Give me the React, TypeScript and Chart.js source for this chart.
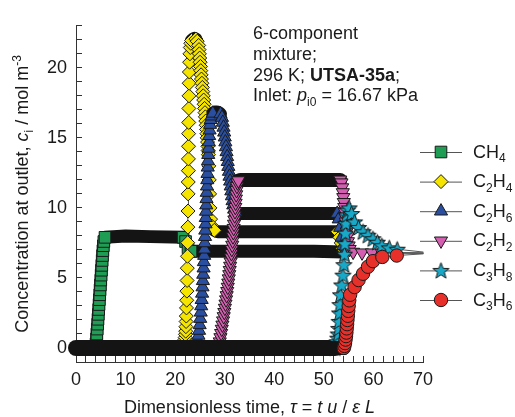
import React, { useEffect, useRef } from "react";
import { Chart, registerables } from "chart.js";

Chart.register(...registerables);

const FONT = "'Liberation Sans', Arial, Helvetica, sans-serif";
const TEXT = "#1a1a1a";

// ---------------- data (tau = dimensionless time, c = mol m^-3) ----------------
const xTickValues = [0, 10, 20, 30, 40, 50, 60, 70];
const yTickValues = [0, 5, 10, 15, 20];

const ch4Tau = [0, 3.9, 4.05, 4.13, 4.21, 4.29, 4.37, 4.44, 4.51, 4.58, 4.65, 4.72, 4.79, 4.86, 4.93, 5.0, 5.07, 5.14, 5.21, 5.28, 5.35, 5.43, 5.52, 5.62, 5.85, 10, 15, 21.6, 22.1, 22.6, 23.2, 30, 40, 48, 54, 70];
const ch4Conc = [0, 0, 0.3, 0.65, 1.0, 1.35, 1.7, 2.05, 2.4, 2.75, 3.1, 3.45, 3.8, 4.15, 4.5, 4.85, 5.2, 5.55, 5.9, 6.25, 6.6, 6.95, 7.3, 7.6, 7.9, 8.0, 7.95, 7.9, 7.6, 7.15, 6.9, 6.9, 6.9, 6.9, 6.85, 6.77];

const c2h4Tau = [0, 21.5,
  21.6, 21.72, 21.82, 21.9, 21.97, 22.03, 22.08, 22.13, 22.17, 22.21, 22.25, 22.29, 22.33, 22.37, 22.41, 22.45, 22.49, 22.53, 22.57, 22.6, 22.62, 22.64, 22.66, 22.68, 22.7, 22.72, 22.74, 22.77, 22.8, 22.83, 22.87, 22.92, 22.98, 23.06, 23.16,
  23.3, 23.6, 23.9, 24.2, 24.45,
  24.75, 24.82, 24.89, 24.96, 25.03, 25.1, 25.17, 25.24, 25.31, 25.4, 25.49, 25.58, 25.67, 25.76, 25.85, 25.94, 26.02, 26.1, 26.18, 26.26, 26.33, 26.4, 26.47, 26.54, 26.6, 26.66, 26.72,
  26.8, 26.88, 26.95, 27.02, 27.15, 27.4, 27.9, 28.6, 40, 52.8,
  53.2, 53.5, 53.8, 54.2, 70];
const c2h4Conc = [0, 0,
  0.1, 0.2, 0.32, 0.45, 0.6, 0.75, 0.97, 1.2, 1.52, 1.89, 2.28, 2.86, 3.41, 4.06, 4.82, 5.7, 6.55, 7.52, 8.63, 9.78, 11.0, 11.85, 12.66, 13.5, 14.4, 15.3, 16.1, 17.1, 18.0, 18.9, 19.7, 20.4, 21.0, 21.45, 21.75,
  21.95, 22.05, 22.1, 22.05, 21.9,
  21.6, 21.3, 21.0, 20.7, 20.4, 20.1, 19.8, 19.5, 19.2, 18.9, 18.6, 18.3, 18.0, 17.7, 17.4, 17.1, 16.8, 16.5, 16.2, 15.9, 15.6, 15.3, 15.0, 14.7, 14.4, 14.1, 13.8,
  13.0, 12.0, 11.0, 10.0, 9.2, 8.7, 8.4, 8.3, 8.3, 8.3,
  7.9, 7.5, 7.1, 6.85, 6.77];

const c2h6Tau = [0, 24.1,
  24.25, 24.4, 24.55, 24.7, 24.83, 24.95, 25.06, 25.16, 25.26, 25.35, 25.44, 25.52, 25.6, 25.67, 25.74, 25.8, 25.86, 25.92, 25.98, 26.03,
  26.08, 26.13, 26.18, 26.23, 26.28, 26.33, 26.38, 26.43, 26.48, 26.53, 26.58, 26.63, 26.68, 26.74, 26.8, 26.87, 26.95, 27.05, 27.18, 27.35,
  27.6, 28.0, 28.4, 28.8, 29.15,
  29.45, 29.62, 29.76, 29.89, 30.01, 30.13, 30.25, 30.37, 30.49, 30.61, 30.73, 30.85, 30.97, 31.09, 31.21, 31.33, 31.45, 31.58, 31.72, 31.9, 32.2, 32.7, 40, 52.7,
  53.0, 53.3, 53.6, 53.9, 54.3, 70];
const c2h6Conc = [0, 0,
  0.15, 0.35, 0.6, 0.9, 1.25, 1.65, 2.1, 2.55, 3.0, 3.45, 3.9, 4.35, 4.8, 5.25, 5.7, 6.15, 6.6, 7.05, 7.5, 7.95,
  8.4, 8.85, 9.3, 9.75, 10.2, 10.65, 11.1, 11.55, 12.0, 12.45, 12.9, 13.35, 13.8, 14.25, 14.7, 15.15, 15.55, 15.95, 16.3, 16.55,
  16.75, 16.85, 16.85, 16.8, 16.7,
  16.45, 16.1, 15.75, 15.4, 15.05, 14.7, 14.35, 14.0, 13.65, 13.3, 12.95, 12.6, 12.25, 11.9, 11.55, 11.2, 10.85, 10.5, 10.2, 9.9, 9.7, 9.6, 9.6, 9.6,
  9.2, 8.6, 7.9, 7.3, 6.9, 6.77];

const c2h2Tau = [0, 28.7,
  28.85, 29.0, 29.14, 29.28, 29.41, 29.54, 29.67, 29.8, 29.92, 30.04, 30.16, 30.28, 30.4, 30.51, 30.62, 30.72, 30.82, 30.92, 31.01, 31.1,
  31.19, 31.28, 31.36, 31.44, 31.52, 31.6, 31.67, 31.74, 31.81, 31.88, 31.95, 32.02, 32.08, 32.14, 32.2, 32.26, 32.32, 32.39, 32.47, 32.58, 32.75,
  33.2, 40, 53.3,
  53.55, 53.7, 53.82, 53.92, 54.02, 54.12, 54.22, 54.32, 54.42, 54.52, 54.62, 54.74, 54.86, 55.0, 55.2, 55.9, 57.7, 59.7, 61.7, 70];
const c2h2Conc = [0, 0,
  0.15, 0.45, 0.75, 1.05, 1.35, 1.65, 1.95, 2.25, 2.55, 2.85, 3.15, 3.45, 3.75, 4.05, 4.35, 4.65, 4.95, 5.25, 5.55, 5.85,
  6.15, 6.45, 6.75, 7.05, 7.35, 7.65, 7.95, 8.25, 8.55, 8.85, 9.15, 9.45, 9.75, 10.05, 10.35, 10.65, 10.95, 11.25, 11.55, 11.8, 11.95,
  12.0, 12.0, 12.0,
  11.8, 11.45, 11.1, 10.75, 10.4, 10.05, 9.7, 9.35, 9.0, 8.65, 8.3, 7.95, 7.6, 7.3, 7.05, 6.85, 6.8, 6.8, 6.78, 6.77];

const c3h8Tau = [0, 52.25, 52.4, 52.55, 52.68, 52.8, 52.9, 53.0, 53.08, 53.16, 53.25, 53.35, 53.6, 53.85, 54.05, 54.15, 54.25, 54.35, 54.45, 54.6, 54.8, 55.1, 55.6, 56.2, 57.0, 57.9, 58.9, 59.9, 60.8, 61.7, 63.2, 64.8, 70];
const c3h8Conc = [0, 0, 0.1, 0.25, 0.45, 0.7, 1.0, 1.4, 1.9, 2.5, 3.1, 3.8, 4.5, 5.2, 5.95, 6.7, 7.45, 8.2, 8.9, 9.5, 9.85, 10.0, 9.6, 9.0, 8.6, 8.3, 8.05, 7.8, 7.55, 7.3, 7.15, 7.05, 6.85];

const c3h6Tau = [0, 54.0, 54.15, 54.27, 54.38, 54.47, 54.55, 54.62, 54.69, 54.76, 54.84, 54.92, 55.01, 55.12, 55.3, 56.2, 57.0, 57.9, 58.9, 59.9, 61.8, 64.7, 70];
const c3h6Conc = [0, 0, 0.15, 0.35, 0.6, 0.85, 1.1, 1.4, 1.7, 2.0, 2.3, 2.65, 3.0, 3.4, 3.8, 4.35, 4.85, 5.3, 5.8, 6.2, 6.5, 6.6, 6.72];

// ---------------- styling ----------------
const BAND_END_TAU = 54; // dense simulation output (markers merge into black bands) before this time
const LONG_GAP_PX = 20;
const FLAT_SLOPE = 1.0;

type Part = { t: string; it?: boolean; b?: boolean; sub?: boolean; sup?: boolean };

const SERIES = [
  { name: [{ t: "CH" }, { t: "4", sub: true }], tau: ch4Tau, conc: ch4Conc, color: "#1f9d55", style: "rect", radius: 8.2, band: 13 },
  { name: [{ t: "C" }, { t: "2", sub: true }, { t: "H" }, { t: "4", sub: true }], tau: c2h4Tau, conc: c2h4Conc, color: "#f4e400", style: "rectRot", radius: 7, band: 13 },
  { name: [{ t: "C" }, { t: "2", sub: true }, { t: "H" }, { t: "6", sub: true }], tau: c2h6Tau, conc: c2h6Conc, color: "#2a4fa0", style: "triangle", radius: 7.6, band: 13 },
  { name: [{ t: "C" }, { t: "2", sub: true }, { t: "H" }, { t: "2", sub: true }], tau: c2h2Tau, conc: c2h2Conc, color: "#d45fb0", style: "triangleDown", radius: 7.6, band: 14 },
  { name: [{ t: "C" }, { t: "3", sub: true }, { t: "H" }, { t: "8", sub: true }], tau: c3h8Tau, conc: c3h8Conc, color: "#18a9c8", style: "star", radius: 8.5, band: 16 },
  { name: [{ t: "C" }, { t: "3", sub: true }, { t: "H" }, { t: "6", sub: true }], tau: c3h6Tau, conc: c3h6Conc, color: "#e8302a", style: "circle", radius: 6.7, band: 14 },
];

const xTitle: Part[] = [
  { t: "Dimensionless time, " }, { t: "τ", it: true }, { t: " = " }, { t: "t", it: true }, { t: " " },
  { t: "u", it: true }, { t: " / " }, { t: "ε", it: true }, { t: " " }, { t: "L", it: true },
];
const yTitle: Part[] = [
  { t: "Concentration at outlet, " }, { t: "c", it: true }, { t: "i", sub: true }, { t: " / mol m" }, { t: "-3", sup: true },
];
const noteLines: Part[][] = [
  [{ t: "6-component" }],
  [{ t: "mixture;" }],
  [{ t: "296 K; " }, { t: "UTSA-35a", b: true }, { t: ";" }],
  [{ t: "Inlet: " }, { t: "p", it: true }, { t: "i0", sub: true }, { t: " = 16.67 kPa" }],
];

function makeStar(color: string, R: number) {
  const size = Math.ceil(2 * R + 4);
  const c = document.createElement("canvas");
  c.width = size;
  c.height = size;
  const g = c.getContext("2d")!;
  drawStarPath(g, size / 2, size / 2 + R * 0.09, R);
  g.fillStyle = color;
  g.fill();
  g.lineWidth = 1;
  g.strokeStyle = "#1a1a1a";
  g.stroke();
  return c;
}
function drawStarPath(g: CanvasRenderingContext2D, cx: number, cy: number, R: number) {
  g.beginPath();
  for (let k = 0; k < 10; k++) {
    const r = k % 2 === 0 ? R : R * 0.42;
    const a = -Math.PI / 2 + (k * Math.PI) / 5;
    const px = cx + r * Math.cos(a), py = cy + r * Math.sin(a);
    if (k === 0) g.moveTo(px, py);
    else g.lineTo(px, py);
  }
  g.closePath();
}

function drawMarker(ctx: CanvasRenderingContext2D, s: any, x: number, y: number, img: any) {
  if (s.style === "star") {
    ctx.drawImage(img, x - img.width / 2, y - img.height / 2);
    return;
  }
  const r = s.radius;
  ctx.save();
  ctx.beginPath();
  if (s.style === "rect") {
    const h = r * Math.SQRT1_2;
    ctx.rect(x - h, y - h, 2 * h, 2 * h);
  } else if (s.style === "rectRot") {
    ctx.moveTo(x - r, y); ctx.lineTo(x, y - r); ctx.lineTo(x + r, y); ctx.lineTo(x, y + r); ctx.closePath();
  } else if (s.style === "triangle") {
    ctx.moveTo(x, y - r); ctx.lineTo(x + 0.866 * r, y + 0.5 * r); ctx.lineTo(x - 0.866 * r, y + 0.5 * r); ctx.closePath();
  } else if (s.style === "triangleDown") {
    ctx.moveTo(x, y + r); ctx.lineTo(x + 0.866 * r, y - 0.5 * r); ctx.lineTo(x - 0.866 * r, y - 0.5 * r); ctx.closePath();
  } else {
    ctx.arc(x, y, r, 0, Math.PI * 2);
  }
  ctx.fillStyle = s.color;
  ctx.fill();
  ctx.lineWidth = 1;
  ctx.strokeStyle = "#1a1a1a";
  ctx.stroke();
  ctx.restore();
}

function partFont(p: Part, size: number) {
  const s = p.sub || p.sup ? size * 0.67 : size;
  return `${p.it ? "italic " : ""}${p.b ? "bold " : ""}${s}px ${FONT}`;
}
function drawRich(ctx: CanvasRenderingContext2D, parts: Part[], x: number, y: number, size: number, align: string) {
  let w = 0;
  for (const p of parts) { ctx.font = partFont(p, size); w += ctx.measureText(p.t).width; }
  let cx = align === "center" ? x - w / 2 : x;
  for (const p of parts) {
    ctx.font = partFont(p, size);
    const dy = p.sub ? size * 0.27 : p.sup ? -size * 0.4 : 0;
    ctx.fillText(p.t, cx, y + dy);
    cx += ctx.measureText(p.t).width;
  }
}

function segInfo(chart: any, tau: number[], conc: number[], i: number, j: number) {
  const xs = chart.scales.x, ys = chart.scales.y;
  const dx = Math.abs(xs.getPixelForValue(tau[j]) - xs.getPixelForValue(tau[i]));
  const dy = Math.abs(ys.getPixelForValue(conc[j]) - ys.getPixelForValue(conc[i]));
  return { band: tau[i] < BAND_END_TAU && dy <= FLAT_SLOPE * dx, long: Math.hypot(dx, dy) >= LONG_GAP_PX };
}

export default function App() {
  const ref = useRef<HTMLCanvasElement>(null);
  useEffect(() => {
    Chart.defaults.font.family = FONT;
    const stars = SERIES.map((s) => (s.style === "star" ? makeStar(s.color, s.radius) : null));

    const datasets = SERIES.map((s, k) => ({
      label: s.name.map((p) => p.t).join(""),
      data: s.tau.map((t, i) => ({ x: t, y: s.conc[i] })),
      order: SERIES.length - k,
      clip: false,
      borderColor: "#555",
      borderWidth: 1,
      borderCapStyle: "round",
      borderJoinStyle: "round",
      pointStyle: s.style === "star" ? stars[k] : s.style === "triangleDown" ? "triangle" : s.style,
      pointRotation: s.style === "triangleDown" ? 180 : 0,
      pointBackgroundColor: s.color,
      pointBorderColor: "#1a1a1a",
      pointBorderWidth: 1,
      pointRadius: (ctx: any) => {
        if (ctx.type !== "data") return s.radius;
        const i = ctx.dataIndex, n = s.tau.length;
        const segs: any[] = [];
        if (i > 0) segs.push(segInfo(ctx.chart, s.tau, s.conc, i - 1, i));
        if (i < n - 1) segs.push(segInfo(ctx.chart, s.tau, s.conc, i, i + 1));
        if (segs.every((g) => g.band) || segs.every((g) => g.long)) return 0;
        return s.radius;
      },
      segment: {
        borderWidth: (ctx: any) => (segInfo(ctx.chart, s.tau, s.conc, ctx.p0DataIndex, ctx.p1DataIndex).band ? s.band : 1),
        borderColor: (ctx: any) => (segInfo(ctx.chart, s.tau, s.conc, ctx.p0DataIndex, ctx.p1DataIndex).band ? "#141414" : "#555"),
        borderCapStyle: "round",
        borderJoinStyle: "round",
        borderDash: [],
        borderDashOffset: 0,
      },
    }));

    const textPlugin = {
      id: "richText",
      afterDraw(chart: any) {
        const ctx = chart.ctx as CanvasRenderingContext2D;
        const ca = chart.chartArea;
        ctx.save();
        ctx.fillStyle = TEXT;
        ctx.textBaseline = "alphabetic";
        drawRich(ctx, xTitle, (ca.left + ca.right) / 2, 413, 18, "center");
        ctx.save();
        ctx.translate(28, (ca.top + ca.bottom) / 2);
        ctx.rotate(-Math.PI / 2);
        drawRich(ctx, yTitle, 0, 0, 18, "center");
        ctx.restore();
        const noteY = [39, 60, 80.7, 100.7];
        noteLines.forEach((parts, i) => drawRich(ctx, parts, 253, noteY[i], 18, "left"));
        SERIES.forEach((s, k) => {
          const y = 152 + k * 29.6;
          ctx.beginPath();
          ctx.moveTo(420, y + 0.5);
          ctx.lineTo(462, y + 0.5);
          ctx.lineWidth = 1;
          ctx.strokeStyle = "#555";
          ctx.stroke();
          drawMarker(ctx, s, 441, y, stars[k]);
          ctx.fillStyle = TEXT;
          drawRich(ctx, s.name, 473, y + 5.5, 18, "left");
        });
        ctx.restore();
      },
    };

    const chart = new Chart(ref.current!, {
      type: "line",
      data: { datasets } as any,
      options: {
        responsive: false,
        animation: false,
        events: [],
        layout: { padding: { left: 0, top: 16, right: 92, bottom: 0 } },
        plugins: { legend: { display: false }, tooltip: { enabled: false } },
        scales: {
          x: {
            type: "linear",
            min: 0,
            max: 70,
            afterFit: (sc: any) => { sc.height = 55; },
            border: { display: true, color: "#333", width: 1 },
            grid: { drawOnChartArea: false, drawTicks: true, tickLength: -6, tickColor: "#333", tickWidth: 1 },
            ticks: {
              stepSize: 2,
              maxTicksLimit: 100,
              autoSkip: false,
              maxRotation: 0,
              padding: 13,
              color: TEXT,
              font: { family: FONT, size: 18 },
              callback: (v: any) => {
                const r = Math.round(v);
                return Math.abs(v - r) < 1e-6 && xTickValues.includes(r) ? String(r) : "";
              },
            },
          },
          y: {
            type: "linear",
            min: -1,
            max: 23,
            afterFit: (sc: any) => { sc.width = 76; },
            border: { display: true, color: "#333", width: 1 },
            grid: { drawOnChartArea: false, drawTicks: true, tickLength: -6, tickColor: "#333", tickWidth: 1 },
            ticks: {
              stepSize: 1,
              maxTicksLimit: 100,
              autoSkip: false,
              padding: 15,
              color: TEXT,
              font: { family: FONT, size: 18 },
              callback: (v: any) => {
                const r = Math.round(v);
                return Math.abs(v - r) < 1e-6 && yTickValues.includes(r) ? String(r) : "";
              },
            },
          },
        },
      } as any,
      plugins: [textPlugin],
    });
    return () => chart.destroy();
  }, []);

  return (
    <div style={{ position: "fixed", left: 0, top: 0, width: 515, height: 417, background: "#fff" }}>
      <canvas ref={ref} width={515} height={417} style={{ display: "block", width: 515, height: 417 }} />
    </div>
  );
}
